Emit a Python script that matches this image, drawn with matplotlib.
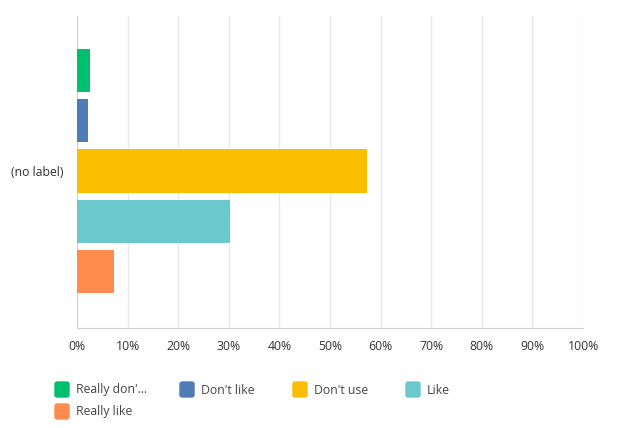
import matplotlib
matplotlib.use("Agg")
import matplotlib.pyplot as plt
from matplotlib.patches import FancyBboxPatch

categories = ["Really don'...", "Don't like", "Don't use", "Like", "Really like"]
values = [2.6, 2.1, 57.3, 30.2, 7.3]
colors = ["#00bf6f", "#507cb6", "#f9be00", "#6bc8cd", "#ff8b4f"]
xticks = [0, 10, 20, 30, 40, 50, 60, 70, 80, 90, 100]
row_label = "(no label)"

plt.rcParams['font.family'] = ['Open Sans', 'DejaVu Sans']

fig = plt.figure(figsize=(6.24, 4.28), dpi=100)
ax = fig.add_axes([77/624, 1-328/428, (583-77)/624, (328-16)/428])

ypos = list(range(len(values)))
ax.barh(ypos, values, height=0.86, color=colors, zorder=3)
ax.set_xlim(0, 100)
ax.set_ylim(len(values)-1+1.13, -1.09)
ax.set_xticks(xticks)
ax.set_xticklabels([f"{t}%" for t in xticks], fontsize=8.8, color="#333333")
ax.set_yticks([2])
ax.set_yticklabels([row_label], fontsize=8.8, color="#333333")
ax.tick_params(axis='x', length=0, pad=9)
ax.tick_params(axis='y', length=0, pad=10)
ax.grid(axis='x', color="#e8e8e8", linewidth=1, zorder=0)
for s in ["top", "right"]:
    ax.spines[s].set_visible(False)
ax.spines["left"].set_color("#d0d0d0")
ax.spines["bottom"].set_color("#d0d0d0")

# legend
cols_x = [55, 180, 293, 406]
rows_y = [390, 412]
for i, (lab, c) in enumerate(zip(categories, colors)):
    x = cols_x[i % 4]
    y = rows_y[i // 4]
    box = FancyBboxPatch(((x)/624, 1-(y+7)/428), 14/624, 15/428,
                         boxstyle="round,pad=0,rounding_size=0.004",
                         transform=fig.transFigure, color=c)
    fig.patches.append(box)
    fig.text((x+21)/624, 1-y/428, lab, fontsize=8.8, color="#444444",
             va="center", ha="left")

fig.savefig("out.png", dpi=100)
